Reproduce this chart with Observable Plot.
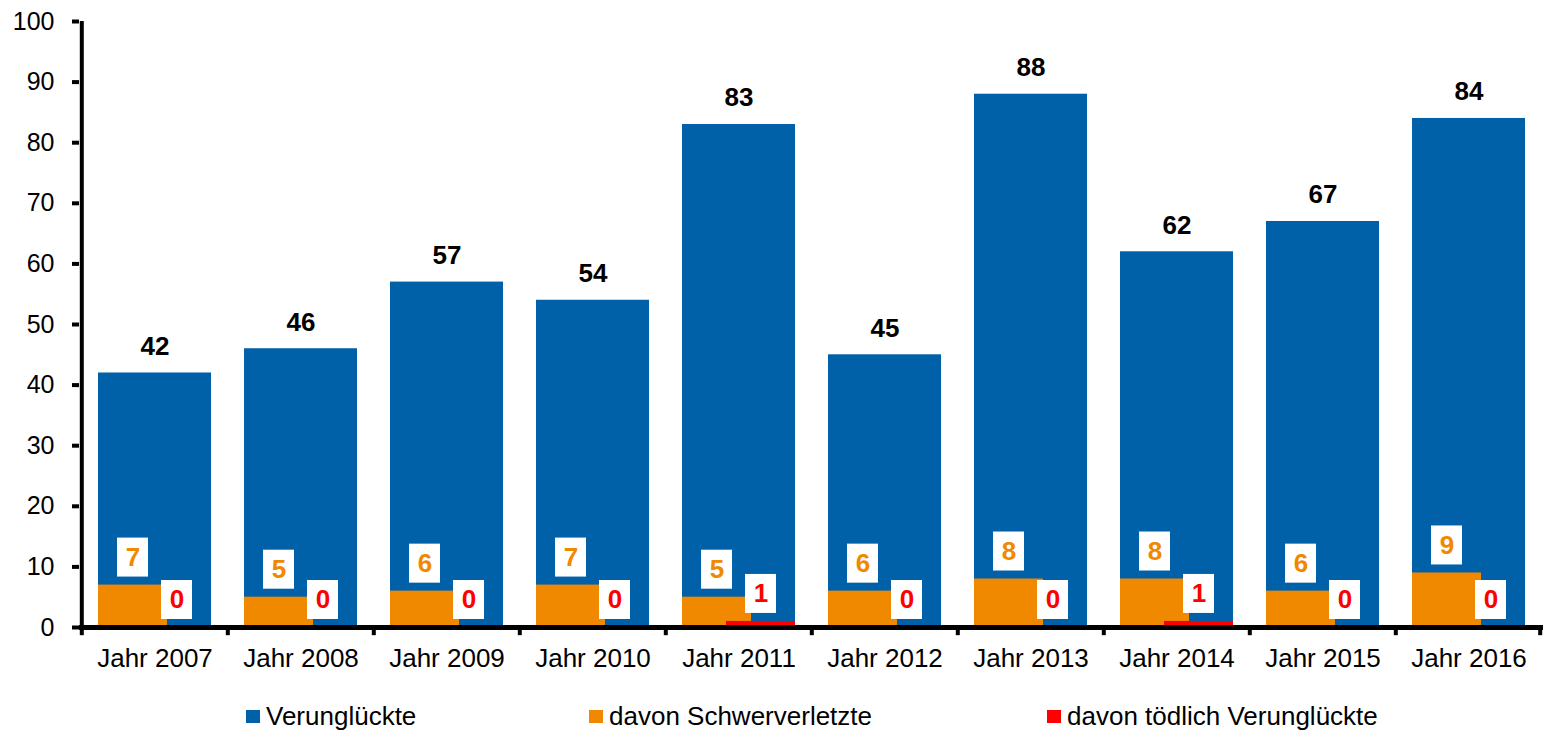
<!DOCTYPE html>
<html>
<head>
<meta charset="utf-8">
<script src="https://cdn.jsdelivr.net/npm/d3@7"></script>
<script src="https://cdn.jsdelivr.net/npm/@observablehq/plot@0.6"></script>
<style>
  html, body { margin: 0; padding: 0; background: #fff; }
  body { width: 1543px; height: 736px; overflow: hidden; font-family: "Liberation Sans", Arial, sans-serif; }
  #legend { position: relative; height: 46px; font-size: 26px; color: #000; }
  .item { position: absolute; top: 11px; display: flex; align-items: center; white-space: nowrap; }
  .sw { width: 14px; height: 13px; margin-right: 6px; }
</style>
</head>
<body>
<div id="chart"></div>
<div id="legend"></div>
<script>
const years = ["Jahr 2007", "Jahr 2008", "Jahr 2009", "Jahr 2010", "Jahr 2011", "Jahr 2012", "Jahr 2013", "Jahr 2014", "Jahr 2015", "Jahr 2016"];
const verunglueckte = [42, 46, 57, 54, 83, 45, 88, 62, 67, 84];
const schwerverletzte = [7, 5, 6, 7, 5, 6, 8, 8, 6, 9];
const toedlich = [0, 0, 0, 0, 1, 0, 0, 1, 0, 0];
const yTicks = [0, 10, 20, 30, 40, 50, 60, 70, 80, 90, 100];
const seriesNames = ["Verunglückte", "davon Schwerverletzte", "davon tödlich Verunglückte"];
const colors = ["#0060A8", "#F08800", "#FF0000"];

const rows = years.map((year, i) => ({year, v: verunglueckte[i], s: schwerverletzte[i], t: toedlich[i]}));

const W = 1543, H = 690, ML = 79, MR = 0;
const step = (W - ML - MR) / years.length;
const font = '"Liberation Sans", Arial, sans-serif';

const chart = Plot.plot({
  width: W,
  height: H,
  marginLeft: ML,
  marginRight: MR,
  marginTop: 21,
  marginBottom: 63,
  style: {fontFamily: font, fontSize: "25px", color: "#000", background: "#fff", overflow: "visible"},
  x: {domain: years, paddingInner: 0.228, paddingOuter: 0.114, label: null},
  y: {domain: [0, 100], label: null},
  marks: [
    Plot.barY(rows, {x: "year", y: "v", fill: colors[0]}),
    Plot.barY(rows, {x: "year", y: "s", fill: colors[1], insetRight: 44}),
    Plot.barY(rows, {x: "year", y: "t", fill: colors[2], insetLeft: 44}),
    // label boxes
    Plot.barY(rows, {x: "year", y1: "s", y2: "s", fill: "#fff", insetTop: -47, insetBottom: 8, insetLeft: 19, insetRight: 63}),
    Plot.barY(rows, {x: "year", y1: "t", y2: "t", fill: "#fff", insetTop: -47, insetBottom: 8, insetLeft: 63, insetRight: 19}),
    Plot.text(rows, {x: "year", y: "s", text: "s", dx: -22, dy: -27.5, fill: colors[1], fontWeight: "bold", fontSize: 26, lineAnchor: "middle"}),
    Plot.text(rows, {x: "year", y: "t", text: "t", dx: 22, dy: -27.5, fill: colors[2], fontWeight: "bold", fontSize: 26, lineAnchor: "middle"}),
    Plot.text(rows, {x: "year", y: "v", text: "v", dy: -26.5, fill: "#000", fontWeight: "bold", fontSize: 26, lineAnchor: "middle"}),
    // axes
    Plot.axisY({ticks: yTicks, tickSize: 7, tickPadding: 18, fontSize: 25, strokeWidth: 4, tickFormat: d => String(d)}),
    Plot.axisX({tickSize: 0, tickPadding: 21, fontSize: 26}),
    Plot.ruleY([0], {stroke: "#000", strokeWidth: 5}),
    Plot.ruleX([years[0]], {dx: -step / 2, y1: 0, y2: 100, stroke: "#000", strokeWidth: 4}),
    Plot.ruleX(years, {dx: -step / 2, y1: 0, y2: -1.35, stroke: "#000", strokeWidth: 4}),
    Plot.ruleX([years[years.length - 1]], {dx: step / 2 - 2, y1: 0, y2: -1.35, stroke: "#000", strokeWidth: 4})
  ]
});
document.getElementById("chart").appendChild(chart);

const legendLefts = [246, 589, 1047];
const legend = document.getElementById("legend");
seriesNames.forEach((name, i) => {
  const item = document.createElement("div");
  item.className = "item";
  item.style.left = legendLefts[i] + "px";
  const sw = document.createElement("span");
  sw.className = "sw";
  sw.style.background = colors[i];
  const label = document.createElement("span");
  label.textContent = name;
  item.appendChild(sw);
  item.appendChild(label);
  legend.appendChild(item);
});
</script>
</body>
</html>
